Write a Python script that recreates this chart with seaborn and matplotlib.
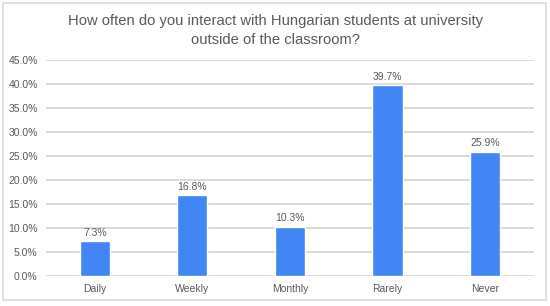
import matplotlib
matplotlib.use('Agg')
import matplotlib.pyplot as plt
import seaborn as sns
import pandas as pd
from matplotlib.patches import Rectangle
from matplotlib.ticker import FuncFormatter, MultipleLocator

# data
categories = ['Daily', 'Weekly', 'Monthly', 'Rarely', 'Never']
shares = [7.3, 16.8, 10.3, 39.7, 25.9]
df = pd.DataFrame({'freq': categories, 'share': shares})

sns.set_style('white')
plt.rcParams['font.family'] = ['Liberation Sans', 'DejaVu Sans']
text_col = '#595959'

fig = plt.figure(figsize=(5.5, 3.06), dpi=100)
ax = fig.add_axes([0.0836, 0.098, 0.887, 0.706])

sns.barplot(data=df, x='freq', y='share', color='#4285f4', width=0.31,
            saturation=1, ax=ax, zorder=3)

for i, v in enumerate(shares):
    ax.text(i, v + 0.7, f'{v:.1f}%', ha='center', va='bottom',
            fontsize=7.5, color=text_col)

ax.set_ylim(0, 45)
ax.set_xlim(-0.5, 4.5)
ax.yaxis.set_major_locator(MultipleLocator(5))
ax.yaxis.set_major_formatter(FuncFormatter(lambda v, p: f'{v:.1f}%'))
ax.grid(axis='y', color='#d9d9d9', linewidth=1.4, zorder=0)
ax.set_axisbelow(True)
for s in ax.spines.values():
    s.set_visible(False)
ax.tick_params(axis='both', length=0, labelsize=7.5, labelcolor=text_col)
ax.tick_params(axis='y', pad=6)
ax.tick_params(axis='x', pad=6)
ax.set_xlabel('')
ax.set_ylabel('')

fig.text(0.5, 0.899, 'How often do you interact with Hungarian students at university\noutside of the classroom?',
         ha='center', va='center', fontsize=10.6, color=text_col, linespacing=1.45)

fig.patches.append(Rectangle((3 / 550, 6 / 306), 543 / 550, 297 / 306,
                             transform=fig.transFigure, fill=False,
                             edgecolor='#d9d9d9', linewidth=1.2))

fig.savefig('out.png', dpi=100)
